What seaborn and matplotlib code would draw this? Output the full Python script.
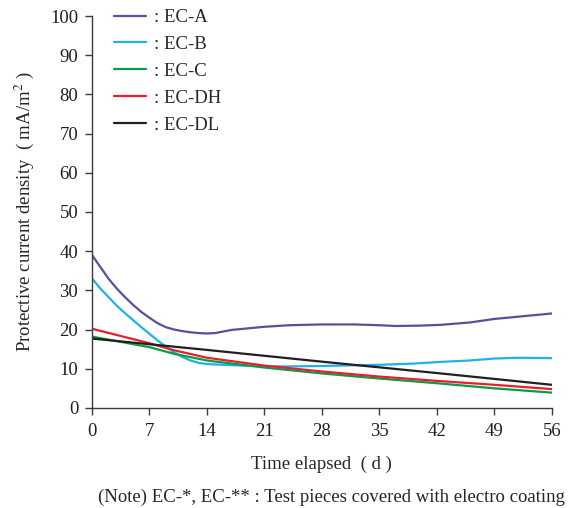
import pandas as pd
import seaborn as sns
import matplotlib.pyplot as plt

# Time elapsed (days) and protective current density (mA/m2)
days_a = [0, 1, 2, 3, 4, 5, 6, 7, 8, 9, 10, 11, 12, 13, 14, 15, 16, 17, 19, 21, 24, 28, 32, 35, 37, 40, 42.5, 46, 49, 52, 56]
ec_a = [39, 36, 33, 30.5, 28.3, 26.3, 24.5, 23, 21.6, 20.6, 20.0, 19.6, 19.3, 19.1, 19.0, 19.1, 19.5, 19.9, 20.3, 20.7, 21.1, 21.3, 21.3, 21.1, 20.9, 21.0, 21.2, 21.8, 22.7, 23.3, 24.1]

days_b = [0, 1, 2, 3, 4, 5, 6, 7, 8, 9, 10, 11, 12, 13, 14, 17, 21, 24, 28, 32, 35, 39, 43, 46, 49, 52, 56]
ec_b = [33, 30.5, 28.3, 26.1, 24.2, 22.4, 20.6, 18.9, 17.2, 15.6, 14.2, 13.0, 12.1, 11.5, 11.2, 10.9, 10.6, 10.6, 10.7, 10.9, 11.0, 11.3, 11.8, 12.1, 12.6, 12.8, 12.7]

days_c = [0, 7, 10, 14, 21, 28, 35, 42, 49, 56]
ec_c = [18.2, 15.5, 13.8, 12.1, 10.3, 8.8, 7.5, 6.3, 5.0, 3.9]

days_dh = [0, 7, 10, 14, 21, 28, 35, 42, 49, 56]
ec_dh = [20.2, 16.5, 14.7, 12.8, 10.8, 9.3, 8.0, 6.9, 5.9, 4.8]

days_dl = [0, 14, 28, 42, 56]
ec_dl = [17.7, 14.8, 11.8, 8.9, 5.9]

series = [": EC-A", ": EC-B", ": EC-C", ": EC-DH", ": EC-DL"]
colors = ["#5a4f9f", "#1eb2e8", "#0a9a48", "#e6202b", "#231f20"]

x_ticks = [0, 7, 14, 21, 28, 35, 42, 49, 56]
y_ticks = [0, 10, 20, 30, 40, 50, 60, 70, 80, 90, 100]


def build_frame():
    '''
    Long-format frame with one row per point
    '''
    parts = []
    for name, d, v in zip(series,
                          [days_a, days_b, days_c, days_dh, days_dl],
                          [ec_a, ec_b, ec_c, ec_dh, ec_dl]):
        parts.append(pd.DataFrame({"day": d, "value": v, "series": name}))
    return pd.concat(parts, ignore_index=True)


def main():
    sns.set_style("ticks")
    plt.rcParams["font.family"] = ["Liberation Serif", "DejaVu Serif"]
    plt.rcParams["mathtext.fontset"] = "stix"
    fs = 13.5

    fig = plt.figure(figsize=(5.73, 5.08), dpi=100)
    ax = fig.add_axes([0.1606, 0.197, 0.8024, 0.7715])

    df = build_frame()
    sns.lineplot(data=df, x="day", y="value", hue="series", hue_order=series,
                 palette=colors, linewidth=1.6, ax=ax, sort=False,
                 estimator=None)

    ax.set_xlim(0, 56)
    ax.set_ylim(0, 100)
    ax.set_xticks(x_ticks)
    ax.set_yticks(y_ticks)
    for side in ["top", "right"]:
        ax.spines[side].set_visible(False)
    for side in ["left", "bottom"]:
        ax.spines[side].set_color("#3a3a3a")
        ax.spines[side].set_linewidth(1.0)
    ax.tick_params(axis="both", labelsize=fs, colors="#3a3a3a",
                   labelcolor="#231f20", length=5, width=1.0, direction="out")
    ax.tick_params(axis="x", pad=6)
    ax.tick_params(axis="y", pad=5)

    ax.set_xlabel("Time elapsed  ( d )", fontsize=fs, labelpad=11)
    ax.set_ylabel("Protective current density  ( mA/m$^2$ )", fontsize=fs,
                  labelpad=10)

    handles, labels = ax.get_legend_handles_labels()
    ax.legend(handles, labels, loc="upper left", frameon=False,
              bbox_to_anchor=(0.185, 0.997), bbox_transform=fig.transFigure,
              fontsize=fs, handlelength=1.75, handletextpad=0.4,
              labelspacing=0.52, borderaxespad=0)

    fig.text(0.578, 0.004,
             "(Note) EC-*, EC-** : Test pieces covered with electro coating",
             ha="center", va="bottom", fontsize=fs)

    fig.savefig("out.png", dpi=100)


if __name__ == "__main__":
    main()
